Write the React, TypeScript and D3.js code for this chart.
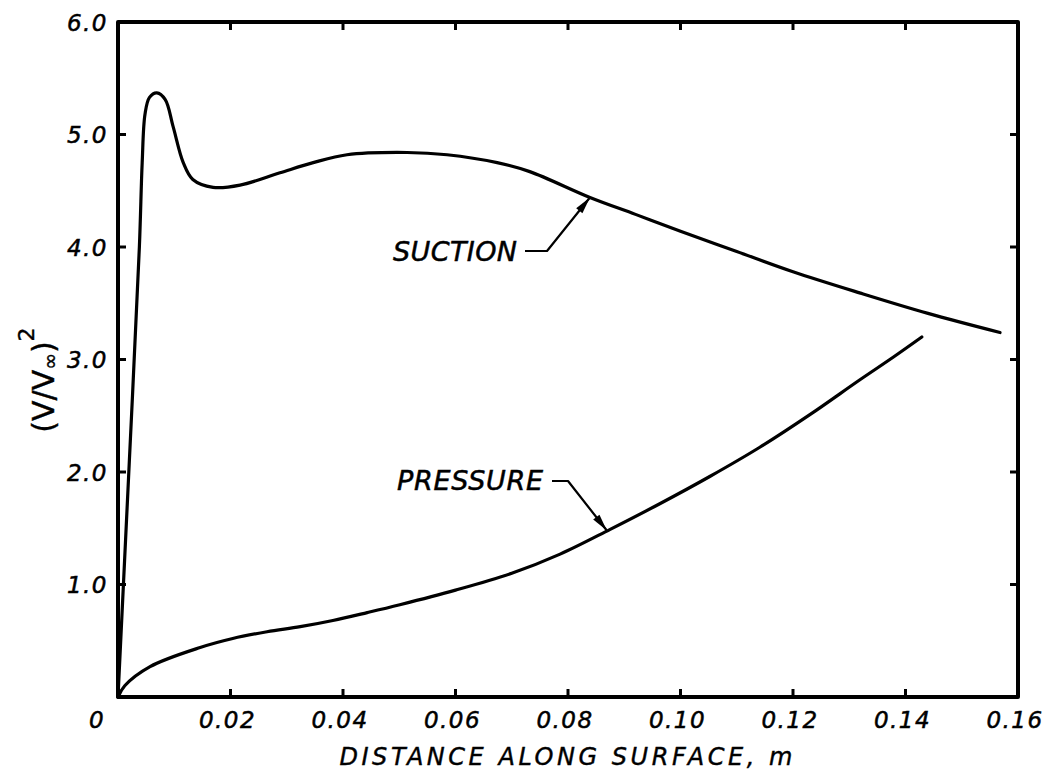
import React from "react";
import * as d3 from "d3";

const suctionX = [0, 0.002, 0.0038, 0.0043, 0.0048, 0.0056, 0.0069, 0.0084, 0.0098, 0.0116, 0.0133, 0.0169, 0.0217, 0.0288, 0.0347, 0.0407, 0.0514, 0.0585, 0.0674, 0.0732, 0.0839, 0.092, 0.1, 0.11, 0.12, 0.132, 0.144, 0.1568];
const suctionY = [0, 2.08, 4.0, 4.75, 5.18, 5.33, 5.37, 5.31, 5.07, 4.75, 4.6, 4.53, 4.55, 4.66, 4.75, 4.82, 4.84, 4.82, 4.75, 4.67, 4.44, 4.29, 4.14, 3.96, 3.78, 3.59, 3.41, 3.24];

const pressureX = [0, 0.0012, 0.0057, 0.0146, 0.0204, 0.0265, 0.0324, 0.0382, 0.0443, 0.0501, 0.06, 0.07, 0.0786, 0.0875, 0.0964, 0.1052, 0.1141, 0.123, 0.1319, 0.1378, 0.1429];
const pressureY = [0, 0.1, 0.27, 0.44, 0.52, 0.58, 0.625, 0.68, 0.75, 0.82, 0.95, 1.1, 1.27, 1.49, 1.72, 1.96, 2.22, 2.51, 2.82, 3.02, 3.2];

const xTicks = [0, 0.02, 0.04, 0.06, 0.08, 0.1, 0.12, 0.14, 0.16];
const xTickLabels = ["0", "0.02", "0.04", "0.06", "0.08", "0.10", "0.12", "0.14", "0.16"];
const yTicks = [1, 2, 3, 4, 5, 6];
const yTickLabels = ["1.0", "2.0", "3.0", "4.0", "5.0", "6.0"];

const xTitle = "DISTANCE ALONG SURFACE, m";
const suctionLabel = "SUCTION";
const pressureLabel = "PRESSURE";

const W = 1054;
const H = 778;
const FONT = "'DejaVu Sans', sans-serif";

export default function App() {
  const x = d3.scaleLinear().domain([0, 0.16]).range([118, 1018]);
  const y = d3.scaleLinear().domain([0, 6]).range([697, 22]);

  const line = d3
    .line<[number, number]>()
    .x((d) => x(d[0]))
    .y((d) => y(d[1]))
    .curve(d3.curveCatmullRom.alpha(0.5));

  const suction = suctionX.map((v, i) => [v, suctionY[i]] as [number, number]);
  const pressure = pressureX.map((v, i) => [v, pressureY[i]] as [number, number]);

  const tickLen = 8;

  const arrow = (x1: number, y1: number, x2: number, y2: number) => {
    const ang = Math.atan2(y2 - y1, x2 - x1);
    const L = 17;
    const w = 4;
    const bx = x2 - L * Math.cos(ang);
    const by = y2 - L * Math.sin(ang);
    const px = -Math.sin(ang) * w;
    const py = Math.cos(ang) * w;
    return `M${x2},${y2}L${bx + px},${by + py}L${bx - px},${by - py}Z`;
  };

  const sTip = [0.0839, 4.44];
  const pTip = [0.0869, 1.48];
  const sx = x(sTip[0]), sy = y(sTip[1]);
  const px = x(pTip[0]), py = y(pTip[1]);

  return (
    <svg width={W} height={H} style={{ position: "absolute", left: 0, top: 0, background: "#fff" }}>
      <rect x={0} y={0} width={W} height={H} fill="#fff" />
      <rect
        x={x(0)}
        y={y(6)}
        width={x(0.16) - x(0)}
        height={y(0) - y(6)}
        fill="none"
        stroke="#000"
        strokeWidth={4}
        strokeLinejoin="round"
      />
      {xTicks.slice(1, -1).map((t) => (
        <g key={"xt" + t}>
          <line x1={x(t)} x2={x(t)} y1={y(0)} y2={y(0) - tickLen} stroke="#000" strokeWidth={3} />
          <line x1={x(t)} x2={x(t)} y1={y(6)} y2={y(6) + tickLen} stroke="#000" strokeWidth={3} />
        </g>
      ))}
      {yTicks.slice(0, -1).map((t) => (
        <g key={"yt" + t}>
          <line x1={x(0)} x2={x(0) + tickLen} y1={y(t)} y2={y(t)} stroke="#000" strokeWidth={3} />
          <line x1={x(0.16)} x2={x(0.16) - tickLen} y1={y(t)} y2={y(t)} stroke="#000" strokeWidth={3} />
        </g>
      ))}
      {xTicks.map((t, i) => (
        <text
          key={"xl" + t}
          x={i === 0 ? 97 : x(t) - 3}
          y={728}
          textAnchor="middle"
          fontFamily={FONT}
          fontStyle="italic"
          fontSize={23}
          letterSpacing={1.5}
          stroke="#000"
          strokeWidth={0.5}
        >
          {xTickLabels[i]}
        </text>
      ))}
      {yTicks.map((t, i) => (
        <text
          key={"yl" + t}
          x={108}
          y={y(t) + 8.5}
          textAnchor="end"
          fontFamily={FONT}
          fontStyle="italic"
          fontSize={23}
          letterSpacing={1.5}
          stroke="#000"
          strokeWidth={0.5}
        >
          {yTickLabels[i]}
        </text>
      ))}
      <text
        x={566}
        y={765}
        textAnchor="middle"
        fontFamily={FONT}
        fontStyle="italic"
        fontSize={24}
        textLength={453}
        lengthAdjust="spacing"
        stroke="#000"
        strokeWidth={0.4}
      >
        {xTitle}
      </text>
      <text
        transform="translate(54,380) rotate(-90)"
        textAnchor="middle"
        fontFamily={FONT}
        fontSize={30}
        stroke="#000"
        strokeWidth={0.4}
      >
        (V/V<tspan fontSize={20} dy={3}>∞</tspan>
        <tspan dy={-3}>)</tspan>
        <tspan fontSize={22} dy={-20}>2</tspan>
      </text>
      <path d={line(suction) || ""} fill="none" stroke="#000" strokeWidth={3.2} strokeLinejoin="round" strokeLinecap="round" />
      <path d={line(pressure) || ""} fill="none" stroke="#000" strokeWidth={3.2} strokeLinejoin="round" strokeLinecap="round" />
      <text
        x={393}
        y={261}
        fontFamily={FONT}
        fontStyle="italic"
        fontSize={27}
        textLength={124}
        lengthAdjust="spacing"
        stroke="#000"
        strokeWidth={0.5}
      >
        {suctionLabel}
      </text>
      <path
        d={`M525,251L547,251L${sx},${sy}`}
        fill="none"
        stroke="#000"
        strokeWidth={2.2}
        strokeLinejoin="round"
      />
      <path d={arrow(547, 251, sx, sy)} fill="#000" />
      <text
        x={397}
        y={490}
        fontFamily={FONT}
        fontStyle="italic"
        fontSize={27}
        textLength={146}
        lengthAdjust="spacing"
        stroke="#000"
        strokeWidth={0.5}
      >
        {pressureLabel}
      </text>
      <path
        d={`M552,481L568,481L${px},${py}`}
        fill="none"
        stroke="#000"
        strokeWidth={2.2}
        strokeLinejoin="round"
      />
      <path d={arrow(568, 481, px, py)} fill="#000" />
    </svg>
  );
}
